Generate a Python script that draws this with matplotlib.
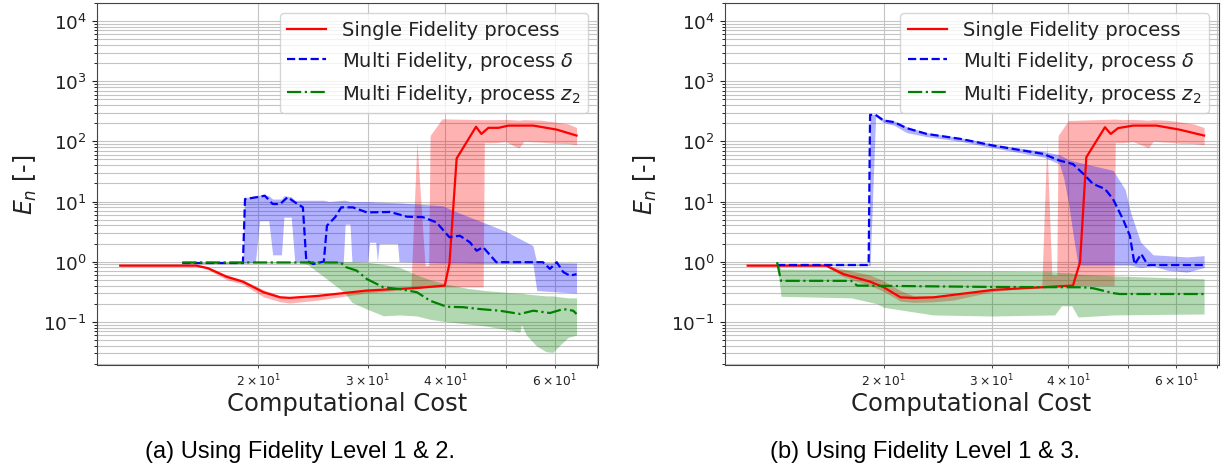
import numpy as np
import matplotlib.pyplot as plt

# ---- data (cost, E_n) ----
# (a) fidelity 1 & 2
a_red_cost = [12.0, 15.9, 16.6, 17.8, 18.9, 20.4, 21.7, 22.5, 25.0, 29.8, 33.0, 36.0,
              39.9, 40.6, 41.7, 44.8, 45.7, 46.9, 48.7, 50.5, 55.4, 60.4, 65.0]
a_red_mean = [0.86, 0.86, 0.78, 0.56, 0.465, 0.31, 0.255, 0.25, 0.27, 0.33, 0.35, 0.365,
              0.40, 0.92, 52, 175, 133, 168, 168, 183, 183, 157, 125]
a_red_band_cost = [12.0, 15.9, 16.6, 17.8, 18.9, 20.4, 21.7, 22.5, 25.0, 29.8, 33.0, 35.2,
                   36.0, 37.1, 37.6, 37.8, 39.5, 46.0, 46.2, 48.0, 50.0, 51.5, 52.5, 53.5,
                   57.0, 60.0, 63.0, 65.0]
a_red_lo = [0.84, 0.84, 0.74, 0.50, 0.42, 0.26, 0.215, 0.205, 0.23, 0.30, 0.33, 0.35,
            0.36, 0.37, 0.37, 0.37, 0.38, 0.38, 95, 95, 99, 85, 78, 100,
            97, 93, 92, 88]
a_red_hi = [0.88, 0.88, 0.82, 0.60, 0.50, 0.34, 0.27, 0.26, 0.28, 0.34, 0.36, 0.37,
            97, 0.86, 0.86, 125, 237, 230, 230, 230, 232, 228, 225, 230,
            225, 210, 195, 170]

a_delta_cost = [15.1, 18.9, 19.05, 19.9, 20.5, 21.1, 21.7, 22.3, 22.9, 23.6, 23.9, 24.5,
                25.5, 25.8, 26.6, 27.2, 28.4, 29.9, 32.6, 34.7, 36.8, 38.7, 40.6, 42.2,
                43.8, 44.9, 46.0, 48.3, 57.4, 58.9, 60.4, 61.9, 63.4, 65.0]
a_delta_mean = [0.95, 0.95, 11.0, 11.8, 12.5, 9.1, 9.1, 11.8, 9.75, 8.0, 1.04, 0.915,
                1.0, 3.97, 5.5, 8.0, 8.0, 6.6, 6.7, 5.6, 5.5, 4.5, 2.55, 2.7,
                2.1, 1.52, 1.74, 0.98, 0.98, 0.76, 0.98, 0.67, 0.585, 0.62]
a_delta_band_cost = [15.1, 18.9, 19.0, 19.8, 20.1, 20.8, 21.1, 21.8, 22.0, 22.6, 22.9, 25.5,
                     26.0, 27.4, 27.6, 28.1, 28.3, 30.0, 30.2, 30.9, 31.1, 31.3, 33.5, 33.7,
                     39.6, 42.0, 46.0, 50.0, 55.3, 56.1, 65.0]
a_delta_lo = [0.93, 0.93, 0.95, 1.0, 4.8, 4.8, 1.3, 1.3, 5.5, 5.5, 1.0, 1.0,
              0.95, 0.95, 4.2, 4.2, 1.0, 1.0, 2.1, 2.1, 1.0, 2.0, 2.0, 1.0,
              0.95, 0.95, 0.93, 0.93, 0.93, 0.33, 0.30]
a_delta_hi = [0.97, 0.97, 11.5, 12.5, 12.8, 12.5, 11.0, 11.0, 12.5, 12.0, 10.5, 10.5,
              10.0, 10.5, 10.5, 10.0, 10.0, 10.0, 10.0, 9.8, 9.8, 9.8, 9.5, 9.5,
              8.5, 6.5, 4.5, 3.2, 1.85, 0.97, 0.95]

a_z2_cost = [15.1, 27.1, 27.7, 28.8, 29.9, 31.8, 33.8, 36.0, 37.8, 40.2, 42.7, 45.4,
             48.9, 52.7, 55.4, 58.9, 61.9, 64.2, 65.0]
a_z2_mean = [0.97, 0.97, 0.81, 0.71, 0.515, 0.375, 0.35, 0.31, 0.224, 0.178, 0.175, 0.163,
             0.153, 0.135, 0.153, 0.14, 0.163, 0.153, 0.135]
a_z2_band_cost = [15.1, 23.5, 24.0, 25.4, 27.5, 28.3, 29.9, 31.8, 33.8, 36.0, 37.8, 40.2,
                  43.4, 46.5, 50.0, 52.7, 53.0, 54.0, 56.0, 58.0, 59.5, 61.0, 63.0, 65.0]
a_z2_lo = [0.95, 0.95, 0.9, 0.58, 0.31, 0.21, 0.163, 0.126, 0.13, 0.125, 0.11, 0.10,
           0.092, 0.085, 0.075, 0.067, 0.09, 0.06, 0.04, 0.032, 0.031, 0.04, 0.055, 0.06]
a_z2_hi = [0.99, 0.99, 1.0, 1.0, 1.0, 1.0, 0.98, 0.9, 0.8, 0.6, 0.5, 0.42,
           0.36, 0.33, 0.31, 0.30, 0.30, 0.29, 0.28, 0.27, 0.27, 0.26, 0.25, 0.25]

# (b) fidelity 1 & 3
b_red_cost = [12.0, 16.1, 17.2, 19.0, 20.0, 21.3, 22.4, 24.1, 30.2, 40.7, 41.8, 42.8,
              45.9, 46.9, 48.2, 51.0, 55.7, 60.7, 66.6]
b_red_mean = [0.86, 0.86, 0.62, 0.465, 0.375, 0.255, 0.25, 0.255, 0.34, 0.40, 0.98, 54.6,
              172, 133, 166, 183, 183, 157, 125]
b_red_band_cost = [12.0, 16.1, 17.2, 19.0, 20.0, 21.3, 22.4, 24.1, 26.0, 30.2, 34.0, 36.2,
                   36.9, 37.6, 38.3, 38.5, 40.0, 47.5, 47.7, 49.0, 51.0, 53.0, 54.0, 55.0,
                   58.0, 61.0, 64.0, 66.6]
b_red_lo = [0.84, 0.84, 0.56, 0.40, 0.32, 0.22, 0.21, 0.215, 0.23, 0.32, 0.36, 0.37,
            0.38, 0.38, 0.39, 0.39, 0.40, 0.40, 95, 95, 99, 85, 78, 100,
            97, 93, 92, 88]
b_red_hi = [0.88, 0.88, 0.75, 0.60, 0.48, 0.33, 0.27, 0.27, 0.28, 0.35, 0.37, 0.38,
            97, 0.6, 0.6, 125, 222, 235, 235, 230, 232, 228, 225, 230,
            225, 210, 195, 170]

b_delta_cost = [13.4, 18.9, 19.0, 19.4, 20.0, 20.8, 21.8, 23.5, 26.7, 30.2, 32.5, 36.4,
                38.7, 40.7, 42.3, 43.9, 45.9, 47.3, 49.1, 50.4, 51.3, 52.6, 53.9, 66.6]
b_delta_mean = [0.88, 0.88, 276, 276, 222, 209, 166, 133, 110, 85, 75, 62,
                48, 42, 29, 19.6, 16.2, 11.0, 5.1, 2.7, 0.9, 1.34, 0.88, 0.88]
b_delta_band_cost = [13.4, 18.9, 19.0, 19.4, 20.0, 20.8, 21.8, 23.5, 26.7, 30.2, 32.5, 36.4,
                     38.7, 39.3, 40.0, 40.8, 41.5, 47.3, 49.5, 50.5, 52.5, 55.0, 58.0, 62.5,
                     66.6]
b_delta_lo = [0.86, 0.86, 0.86, 260, 205, 185, 140, 120, 100, 78, 68, 55,
              42, 25, 9.8, 2.5, 0.88, 0.88, 0.88, 0.88, 0.80, 0.85, 0.72, 0.67,
              0.80]
b_delta_hi = [0.90, 0.90, 280, 285, 235, 220, 175, 140, 115, 90, 80, 68,
              60, 55, 50, 47, 45, 33, 16, 6.7, 2.1, 1.3, 1.26, 1.2,
              1.26]

b_z2_cost = [13.4, 13.6, 17.7, 18.1, 30.0, 42.3, 44.0, 47.3, 48.5, 66.6]
b_z2_mean = [0.98, 0.48, 0.48, 0.40, 0.38, 0.375, 0.36, 0.30, 0.29, 0.29]
b_z2_band_cost = [13.4, 13.6, 17.7, 19.5, 20.0, 24.1, 30.0, 38.0, 39.0, 40.5, 41.5, 47.3, 66.6]
b_z2_lo = [0.95, 0.265, 0.25, 0.2, 0.174, 0.13, 0.125, 0.13, 0.185, 0.185, 0.12, 0.13, 0.135]
b_z2_hi = [1.0, 0.75, 0.74, 0.73, 0.72, 0.71, 0.70, 0.68, 0.66, 0.65, 0.62, 0.58, 0.52]

labels = ['Single Fidelity process',
          r'Multi Fidelity, process $\delta$',
          r'Multi Fidelity, process $z_2$']
captions = ['(a) Using Fidelity Level 1 & 2.', '(b) Using Fidelity Level 1 & 3.']

W, H = 1231, 477
fig = plt.figure(figsize=(W / 100, H / 100), dpi=100)


def draw_panel(ax, red, delta, z2):
    # each series: line cost, line mean, band cost, band low, band high
    series = [(red, 'red', '-'), (delta, 'blue', '--'), (z2, 'green', '-.')]

    for (cost, mean, bc, lo, hi), col, ls in series:
        ax.fill_between(bc, lo, hi, color=col, alpha=0.3, lw=0)
    for i, ((cost, mean, bc, lo, hi), col, ls) in enumerate(series):
        ax.plot(cost, mean, ls, color=col, lw=1.6, label=labels[i])

    ax.set_xscale('log')
    ax.set_yscale('log')
    ax.set_xlim(11.0, 70.3)
    ax.set_ylim(0.0195, 2.0e4)
    ax.grid(True, which='both', color='#c4c4c4', lw=0.8)
    ax.set_axisbelow(True)

    ax.tick_params(axis='y', which='major', labelsize=13.3, colors='#222222')
    ax.tick_params(axis='x', which='minor', labelsize=8.8, colors='#222222')
    for s in ax.spines.values():
        s.set_color('#444444')

    ax.set_xlabel('Computational Cost', fontsize=17.5, color='#222222', va='center')
    ax.set_ylabel(r'$E_n$ [-]', fontsize=17, color='#222222')
    ax.xaxis.set_label_coords(0.5, -0.106)

    leg = ax.legend(loc='upper right', fontsize=14)
    for t in leg.get_texts():
        t.set_color('#222222')


ax1 = fig.add_axes([96.7 / W, (H - 365.5) / H, 501 / W, 361.5 / H])
draw_panel(ax1,
           (a_red_cost, a_red_mean, a_red_band_cost, a_red_lo, a_red_hi),
           (a_delta_cost, a_delta_mean, a_delta_band_cost, a_delta_lo, a_delta_hi),
           (a_z2_cost, a_z2_mean, a_z2_band_cost, a_z2_lo, a_z2_hi))
ax1.yaxis.set_label_coords(-0.116, 0.5)

ax2 = fig.add_axes([724.5 / W, (H - 365.5) / H, 494 / W, 361.5 / H])
draw_panel(ax2,
           (b_red_cost, b_red_mean, b_red_band_cost, b_red_lo, b_red_hi),
           (b_delta_cost, b_delta_mean, b_delta_band_cost, b_delta_lo, b_delta_hi),
           (b_z2_cost, b_z2_mean, b_z2_band_cost, b_z2_lo, b_z2_hi))
ax2.yaxis.set_label_coords(-0.1326, 0.5)

fig.text(300 / W, 1 - 452 / H, captions[0], ha='center', va='center',
         fontsize=17, family='Liberation Sans')
fig.text(925 / W, 1 - 452 / H, captions[1], ha='center', va='center',
         fontsize=17, family='Liberation Sans')

fig.savefig('out.png', dpi=100)
